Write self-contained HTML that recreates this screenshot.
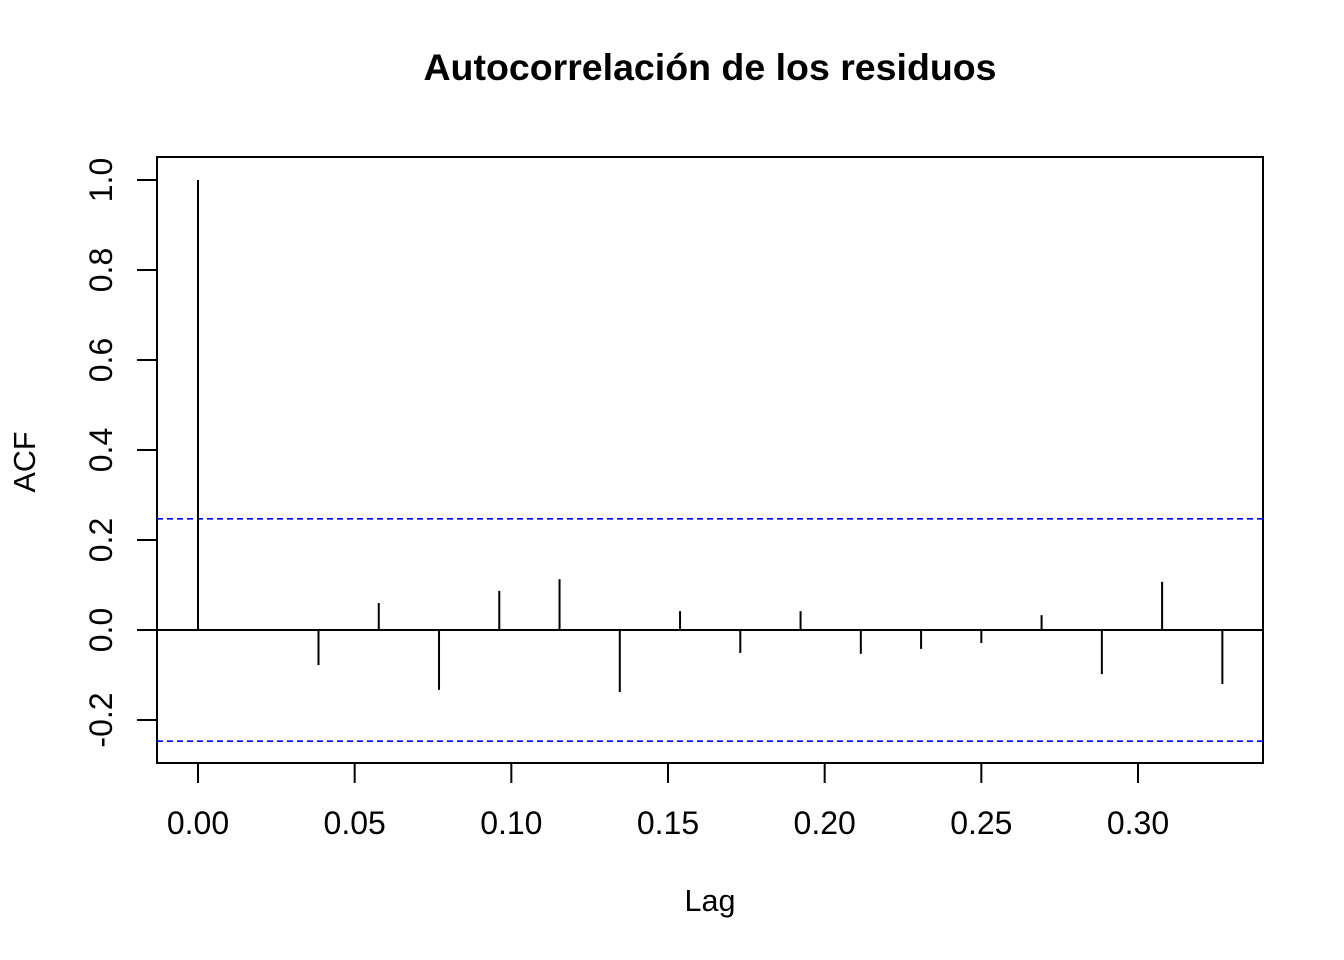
<!DOCTYPE html>
<html><head><meta charset="utf-8"><style>
html,body{margin:0;padding:0;background:#fff}
svg{display:block}
text{font-family:"Liberation Sans",Arial,sans-serif;fill:#000}
</style></head><body>
<svg id="chart" width="1344" height="960" viewBox="0 0 1344 960" xmlns="http://www.w3.org/2000/svg">
<rect width="1344" height="960" fill="#fff"/>
<text x="710" y="80" font-size="37.5" font-weight="bold" text-anchor="middle">Autocorrelación de los residuos</text>
<rect x="157" y="157" width="1106" height="606" fill="none" stroke="#000" stroke-width="2"/>
<text x="710" y="911" font-size="30.5" text-anchor="middle">Lag</text>
<text transform="translate(35,462) rotate(-90)" font-size="30.5" text-anchor="middle">ACF</text>
<g id="xaxis"></g>
<g id="yaxis"></g>
<g id="marks"></g>
</svg>
<script>
const lags = [0,1,2,3,4,5,6,7,8,9,10,11,12,13,14,15,16,17];
const acfValues = [1.0,0.0,-0.078,0.06,-0.133,0.087,0.113,-0.138,0.042,-0.051,0.042,-0.053,-0.042,-0.029,0.033,-0.098,0.107,-0.12];
const frequency = 52;
const ciBound = 0.247;
const xTicks = [0,0.05,0.10,0.15,0.20,0.25,0.30];
const xTickLabels = ["0.00","0.05","0.10","0.15","0.20","0.25","0.30"];
const yTicks = [-0.2,0,0.2,0.4,0.6,0.8,1.0];
const yTickLabels = ["-0.2","0.0","0.2","0.4","0.6","0.8","1.0"];

const NS="http://www.w3.org/2000/svg";
const xs = v => 198 + v*(1138-198)/0.30;
const ys = v => 630 - v*450;
function mk(tag, attrs, parent){const e=document.createElementNS(NS,tag);for(const k in attrs)e.setAttribute(k,attrs[k]);parent.appendChild(e);return e;}
const xa=document.getElementById('xaxis'), ya=document.getElementById('yaxis'), mg=document.getElementById('marks');
mk('line',{x1:xs(xTicks[0]),x2:xs(xTicks[xTicks.length-1]),y1:763,y2:763,stroke:'#000','stroke-width':2},xa);
xTicks.forEach((t,i)=>{
  const l=mk('line',{x1:xs(t),x2:xs(t),y1:763,y2:783,stroke:'#000','stroke-width':2},xa);
  
  
  const tx=mk('text',{x:xs(t),y:834,'font-size':32,'text-anchor':'middle'},xa);
  tx.textContent=xTickLabels[i];
  
  
});
mk('line',{x1:157,x2:157,y1:ys(yTicks[0]),y2:ys(yTicks[yTicks.length-1]),stroke:'#000','stroke-width':2},ya);
yTicks.forEach((t,i)=>{
  const l=mk('line',{x1:137,x2:157,y1:ys(t),y2:ys(t),stroke:'#000','stroke-width':2},ya);
  
  
  const tx=mk('text',{transform:`translate(112,${ys(t)}) rotate(-90)`,'font-size':32,'text-anchor':'middle'},ya);
  tx.textContent=yTickLabels[i];
  
  
});
const zero=mk('line',{x1:157,x2:1263,y1:ys(0),y2:ys(0),stroke:'#000','stroke-width':2},mg);


[ciBound,-ciBound].forEach(b=>{
  const l=mk('line',{x1:157,x2:1263,y1:ys(b),y2:ys(b),stroke:'#0000ff','stroke-width':1.6,'stroke-dasharray':'6 4'},mg);
  
  
});
lags.forEach((k,i)=>{
  const x=xs(k/frequency);
  const l=mk('line',{x1:x,x2:x,y1:ys(0),y2:ys(acfValues[i]),stroke:'#000','stroke-width':2},mg);
  
  
});
</script>
</body></html>
